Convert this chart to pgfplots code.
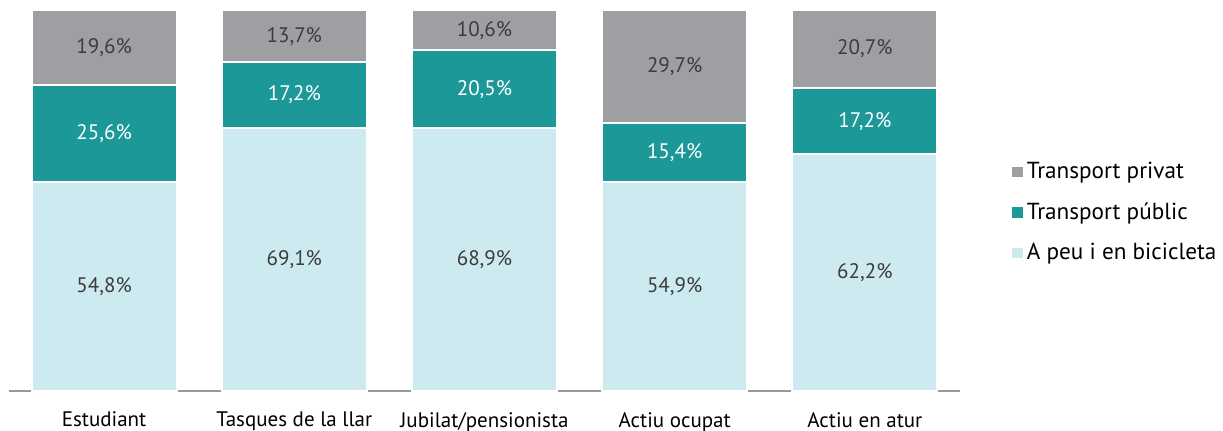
\documentclass[border=0pt]{standalone}
\usepackage{fontspec}
\setmainfont{PT Sans}
\usepackage{pgfplots}
\pgfplotsset{compat=1.18}

\definecolor{privat}{HTML}{9D9FA2}
\definecolor{public}{HTML}{1C9899}
\definecolor{peu}{HTML}{CDEAF1}
\definecolor{txt}{HTML}{3C3C3C}
\definecolor{axisgray}{HTML}{9A9A9A}

\pgfplotsset{
  base/.style={
    at={(0,0)}, anchor=south west,
    scale only axis,
    width=475.5pt, height=190.5pt,
    ybar stacked,
    bar width=72.5pt,
    xmin=-0.5, xmax=4.5,
    ymin=0, ymax=100,
    clip=false,
  },
}

\begin{document}
\begin{tikzpicture}
\useasboundingbox (-4.5pt,-19.5pt) rectangle (607pt,195.5pt);
\begin{axis}[
    base,
    axis x line*=bottom,
    axis y line=none,
    x axis line style={draw=axisgray, line width=1pt, -},
    xtick={0,1,2,3,4},
    xticklabels={Estudiant, Tasques de la llar, Jubilat/pensionista, Actiu ocupat, Actiu en atur},
    xticklabel style={font=\fontsize{10.5}{12}\selectfont, text=black, yshift=-7pt},
    major tick length=0pt,
    ytick=\empty,
    legend style={at={(1.0547,0.4685)}, anchor=west, draw=none, fill=none,
        inner sep=0pt, row sep=6.5pt, font=\fontsize{11.6}{13}\selectfont},
    legend cell align=left,
    reverse legend,
    legend image code/.code={\fill[#1,draw=none] (0pt,-2.6pt) rectangle (5.2pt,2.6pt);},
]
\addplot[fill=peu, draw=white, line width=1pt]
  coordinates {(0,54.8) (1,69.1) (2,68.9) (3,54.9) (4,62.2)};
\addplot[fill=public, draw=white, line width=1pt]
  coordinates {(0,25.6) (1,17.2) (2,20.5) (3,15.4) (4,17.2)};
\addplot[fill=privat, draw=white, line width=1pt]
  coordinates {(0,19.6) (1,13.7) (2,10.6) (3,29.7) (4,20.7)};
\legend{A peu i en bicicleta, Transport públic, Transport privat}
\end{axis}
% same stacks again, invisible, only to put the value labels on top of the bars
\begin{axis}[
    base,
    hide axis,
    /pgf/number format/assume math mode=true,
    nodes near coords={\pgfmathprintnumber[fixed,zerofill,precision=1,use comma]{\pgfplotspointmeta}\%},
    every node near coord/.append style={font=\fontsize{10.5}{12}\selectfont},
]
\addplot[draw=none, fill=none, every node near coord/.append style={text=txt}]
  coordinates {(0,54.8) (1,69.1) (2,68.9) (3,54.9) (4,62.2)};
\addplot[draw=none, fill=none, every node near coord/.append style={text=white}]
  coordinates {(0,25.6) (1,17.2) (2,20.5) (3,15.4) (4,17.2)};
\addplot[draw=none, fill=none, every node near coord/.append style={text=txt}]
  coordinates {(0,19.6) (1,13.7) (2,10.6) (3,29.7) (4,20.7)};
\end{axis}
\end{tikzpicture}
\end{document}
